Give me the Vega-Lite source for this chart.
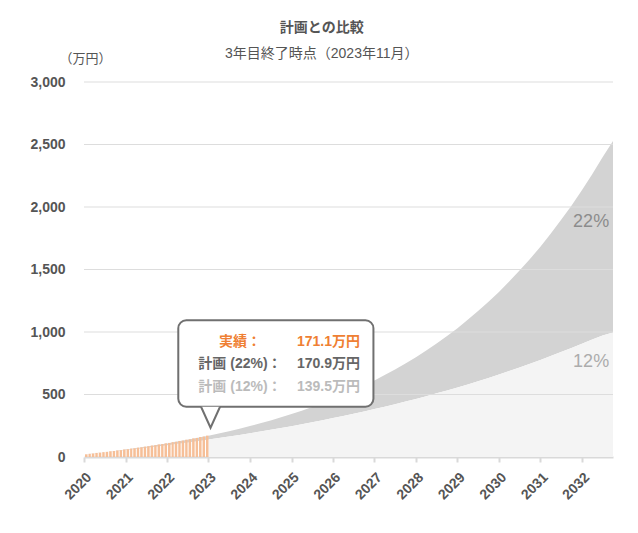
{
  "$schema": "https://vega.github.io/schema/vega-lite/v6.json",
  "width": 529,
  "height": 375,
  "autosize": {"type": "none"},
  "padding": {"left": 84, "top": 82, "right": 25, "bottom": 76},
  "background": "white",
  "title": {
    "text": "計画との比較",
    "subtitle": "3年目終了時点（2023年11月）",
    "anchor": "middle",
    "frame": "bounds",
    "fontSize": 14,
    "fontWeight": "bold",
    "color": "#555",
    "subtitleFontSize": 14,
    "subtitleColor": "#555",
    "subtitlePadding": 12,
    "offset": -9
  },
  "datasets": {
    "plan": [
      {"date": "2020-01-01", "p12": 20, "p22": 20},
      {"date": "2020-04-01", "p12": 28.4, "p22": 29.1},
      {"date": "2020-07-01", "p12": 37.1, "p22": 38.7},
      {"date": "2020-10-01", "p12": 46.0, "p22": 48.9},
      {"date": "2021-01-01", "p12": 55.3, "p22": 59.6},
      {"date": "2021-04-01", "p12": 64.7, "p22": 71.0},
      {"date": "2021-07-01", "p12": 74.5, "p22": 82.9},
      {"date": "2021-10-01", "p12": 84.6, "p22": 95.6},
      {"date": "2022-01-01", "p12": 95.0, "p22": 109.0},
      {"date": "2022-04-01", "p12": 105.7, "p22": 123.2},
      {"date": "2022-07-01", "p12": 116.7, "p22": 138.1},
      {"date": "2022-10-01", "p12": 128.1, "p22": 153.9},
      {"date": "2023-01-01", "p12": 139.5, "p22": 170.9},
      {"date": "2023-04-01", "p12": 151.8, "p22": 188.3},
      {"date": "2023-07-01", "p12": 164.2, "p22": 207.0},
      {"date": "2023-10-01", "p12": 177.0, "p22": 226.7},
      {"date": "2024-01-01", "p12": 190.2, "p22": 247.5},
      {"date": "2024-04-01", "p12": 203.8, "p22": 269.5},
      {"date": "2024-07-01", "p12": 217.8, "p22": 292.8},
      {"date": "2024-10-01", "p12": 232.2, "p22": 317.4},
      {"date": "2025-01-01", "p12": 247.0, "p22": 343.4},
      {"date": "2025-04-01", "p12": 262.3, "p22": 370.9},
      {"date": "2025-07-01", "p12": 278.1, "p22": 400.0},
      {"date": "2025-10-01", "p12": 294.4, "p22": 430.7},
      {"date": "2026-01-01", "p12": 311.1, "p22": 463.1},
      {"date": "2026-04-01", "p12": 328.3, "p22": 497.4},
      {"date": "2026-07-01", "p12": 346.1, "p22": 533.6},
      {"date": "2026-10-01", "p12": 364.4, "p22": 571.9},
      {"date": "2027-01-01", "p12": 383.3, "p22": 612.4},
      {"date": "2027-04-01", "p12": 402.7, "p22": 655.1},
      {"date": "2027-07-01", "p12": 422.7, "p22": 700.3},
      {"date": "2027-10-01", "p12": 443.3, "p22": 748.1},
      {"date": "2028-01-01", "p12": 464.6, "p22": 798.6},
      {"date": "2028-04-01", "p12": 486.5, "p22": 851.9},
      {"date": "2028-07-01", "p12": 509.1, "p22": 908.3},
      {"date": "2028-10-01", "p12": 532.3, "p22": 967.9},
      {"date": "2029-01-01", "p12": 556.2, "p22": 1030.9},
      {"date": "2029-04-01", "p12": 580.9, "p22": 1097.4},
      {"date": "2029-07-01", "p12": 606.3, "p22": 1167.8},
      {"date": "2029-10-01", "p12": 632.5, "p22": 1242.1},
      {"date": "2030-01-01", "p12": 659.5, "p22": 1320.7},
      {"date": "2030-04-01", "p12": 687.3, "p22": 1403.7},
      {"date": "2030-07-01", "p12": 716.0, "p22": 1491.5},
      {"date": "2030-10-01", "p12": 745.5, "p22": 1584.2},
      {"date": "2031-01-01", "p12": 775.9, "p22": 1682.2},
      {"date": "2031-04-01", "p12": 807.2, "p22": 1785.8},
      {"date": "2031-07-01", "p12": 839.5, "p22": 1895.3},
      {"date": "2031-10-01", "p12": 872.7, "p22": 2011.0},
      {"date": "2032-01-01", "p12": 906.0, "p22": 2133.2},
      {"date": "2032-04-01", "p12": 940.0, "p22": 2262.4},
      {"date": "2032-07-01", "p12": 973.0, "p22": 2399.0},
      {"date": "2032-10-01", "p12": 996.0, "p22": 2528.0}
    ],
    "actual": [
      {"date": "2020-01-01", "value": 21.6},
      {"date": "2020-02-01", "value": 25.3},
      {"date": "2020-03-01", "value": 28.2},
      {"date": "2020-04-01", "value": 32.6},
      {"date": "2020-05-01", "value": 34.8},
      {"date": "2020-06-01", "value": 38.9},
      {"date": "2020-07-01", "value": 41.2},
      {"date": "2020-08-01", "value": 45.9},
      {"date": "2020-09-01", "value": 48.1},
      {"date": "2020-10-01", "value": 52.7},
      {"date": "2020-11-01", "value": 55.2},
      {"date": "2020-12-01", "value": 60.1},
      {"date": "2021-01-01", "value": 62.4},
      {"date": "2021-02-01", "value": 67.5},
      {"date": "2021-03-01", "value": 69.8},
      {"date": "2021-04-01", "value": 75.3},
      {"date": "2021-05-01", "value": 77.9},
      {"date": "2021-06-01", "value": 83.4},
      {"date": "2021-07-01", "value": 86.1},
      {"date": "2021-08-01", "value": 91.8},
      {"date": "2021-09-01", "value": 94.6},
      {"date": "2021-10-01", "value": 100.5},
      {"date": "2021-11-01", "value": 103.2},
      {"date": "2021-12-01", "value": 109.4},
      {"date": "2022-01-01", "value": 112.7},
      {"date": "2022-02-01", "value": 118.9},
      {"date": "2022-03-01", "value": 121.8},
      {"date": "2022-04-01", "value": 128.4},
      {"date": "2022-05-01", "value": 131.6},
      {"date": "2022-06-01", "value": 138.5},
      {"date": "2022-07-01", "value": 142.0},
      {"date": "2022-08-01", "value": 148.7},
      {"date": "2022-09-01", "value": 152.6},
      {"date": "2022-10-01", "value": 159.8},
      {"date": "2022-11-01", "value": 163.9},
      {"date": "2022-12-01", "value": 171.1}
    ],
    "grid": [
      {"v": 500}, {"v": 1000}, {"v": 1500}, {"v": 2000}, {"v": 2500}, {"v": 3000}
    ],
    "rate": [
      {"series": "22%", "label": "22%"},
      {"series": "12%", "label": "12%"}
    ],
    "note": [
      {"series": "実績", "label": "実績：", "amount": "171.1万円"},
      {"series": "22%", "label": "計画 (22%)：", "amount": "170.9万円"},
      {"series": "12%", "label": "計画 (12%)：", "amount": "139.5万円"}
    ]
  },
  "layer": [
    {
      "data": {"name": "plan"},
      "mark": {"type": "area", "color": "#d3d3d3"},
      "encoding": {
        "x": {
          "field": "date", "type": "temporal", "title": null,
          "scale": {"domain": [{"year": 2020, "month": 1, "date": 1}, {"year": 2032, "month": 10, "date": 1}], "nice": false},
          "axis": {
            "format": "%Y", "tickCount": {"interval": "year", "step": 1},
            "labelAngle": -45, "labelFontSize": 14, "labelFontWeight": "bold", "labelColor": "#555",
            "labelPadding": 8, "domainColor": "#d9d9d9", "domainWidth": 2,
            "tickColor": "#d9d9d9", "tickWidth": 2, "tickSize": 5, "grid": false
          }
        },
        "y": {
          "field": "p22", "type": "quantitative",
          "scale": {"domain": [0, 3000], "nice": false},
          "axis": {
            "title": "（万円）", "titleAngle": 0, "titleAlign": "center", "titleBaseline": "middle",
            "titleX": 1, "titleY": -24, "titleFontSize": 13, "titleFontWeight": "normal", "titleColor": "#555",
            "values": [0, 500, 1000, 1500, 2000, 2500, 3000], "format": ",d",
            "labelFontSize": 14, "labelFontWeight": "bold", "labelColor": "#555", "labelPadding": 19,
            "grid": false, "domain": false, "ticks": false
          }
        },
        "y2": {"field": "p12"}
      }
    },
    {
      "data": {"name": "plan"},
      "transform": [{"filter": "year(datum.date) >= 2023"}],
      "mark": {"type": "area", "color": "#f4f4f4"},
      "encoding": {
        "x": {"field": "date", "type": "temporal"},
        "y": {"field": "p12", "type": "quantitative"}
      }
    },
    {
      "data": {"name": "actual"},
      "mark": {"type": "bar", "color": "#f6bf98"},
      "encoding": {
        "x": {"field": "date", "timeUnit": "yearmonth", "type": "temporal"},
        "y": {"field": "value", "type": "quantitative"}
      }
    },
    {
      "data": {"name": "grid"},
      "mark": {"type": "rule", "color": "#dddddd", "strokeWidth": 1},
      "encoding": {
        "y": {"field": "v", "type": "quantitative"}
      }
    },
    {
      "data": {"name": "rate"},
      "transform": [{"filter": "datum.series === '22%'"}],
      "mark": {"type": "text", "align": "right", "baseline": "middle", "fontSize": 18, "color": "#8c8c8c"},
      "encoding": {
        "x": {"datum": {"year": 2032, "month": 8, "date": 28}, "type": "temporal"},
        "y": {"datum": 1878, "type": "quantitative"},
        "text": {"field": "label"}
      }
    },
    {
      "data": {"name": "rate"},
      "transform": [{"filter": "datum.series === '12%'"}],
      "mark": {"type": "text", "align": "right", "baseline": "middle", "fontSize": 18, "color": "#acacac"},
      "encoding": {
        "x": {"datum": {"year": 2032, "month": 8, "date": 28}, "type": "temporal"},
        "y": {"datum": 758, "type": "quantitative"},
        "text": {"field": "label"}
      }
    },
    {
      "data": {"values": [{}]},
      "mark": {"type": "rect", "fill": "white", "stroke": "#707070", "strokeWidth": 2, "cornerRadius": 8},
      "encoding": {
        "x": {"datum": {"year": 2022, "month": 4, "date": 10}, "type": "temporal"},
        "x2": {"datum": {"year": 2026, "month": 12, "date": 23}},
        "y": {"datum": 1094, "type": "quantitative"},
        "y2": {"datum": 402}
      }
    },
    {
      "data": {"values": [{}]},
      "mark": {"type": "point", "shape": "M-0.95,-1.1L0,1L0.95,-1.1", "size": 400, "filled": true, "fill": "white", "stroke": "#707070", "strokeWidth": 2, "opacity": 1},
      "encoding": {
        "x": {"datum": {"year": 2023, "month": 1, "date": 19}, "type": "temporal"},
        "y": {"datum": 314, "type": "quantitative"}
      }
    },
    {
      "data": {"name": "note"},
      "transform": [{"filter": "datum.series === '実績'"}],
      "mark": {"type": "text", "align": "center", "baseline": "middle", "fontSize": 14, "fontWeight": "bold", "color": "#ef7f33"},
      "encoding": {
        "x": {"datum": {"year": 2023, "month": 10, "date": 5}, "type": "temporal"},
        "y": {"datum": 924, "type": "quantitative"},
        "text": {"field": "label"}
      }
    },
    {
      "data": {"name": "note"},
      "transform": [{"filter": "datum.series === '実績'"}],
      "mark": {"type": "text", "align": "right", "baseline": "middle", "fontSize": 14, "fontWeight": "bold", "color": "#ef7f33"},
      "encoding": {
        "x": {"datum": {"year": 2026, "month": 8, "date": 27}, "type": "temporal"},
        "y": {"datum": 924, "type": "quantitative"},
        "text": {"field": "amount"}
      }
    },
    {
      "data": {"name": "note"},
      "transform": [{"filter": "datum.series === '22%'"}],
      "mark": {"type": "text", "align": "center", "baseline": "middle", "fontSize": 14, "fontWeight": "bold", "color": "#666666"},
      "encoding": {
        "x": {"datum": {"year": 2023, "month": 10, "date": 5}, "type": "temporal"},
        "y": {"datum": 743, "type": "quantitative"},
        "text": {"field": "label"}
      }
    },
    {
      "data": {"name": "note"},
      "transform": [{"filter": "datum.series === '22%'"}],
      "mark": {"type": "text", "align": "right", "baseline": "middle", "fontSize": 14, "fontWeight": "bold", "color": "#666666"},
      "encoding": {
        "x": {"datum": {"year": 2026, "month": 8, "date": 27}, "type": "temporal"},
        "y": {"datum": 743, "type": "quantitative"},
        "text": {"field": "amount"}
      }
    },
    {
      "data": {"name": "note"},
      "transform": [{"filter": "datum.series === '12%'"}],
      "mark": {"type": "text", "align": "center", "baseline": "middle", "fontSize": 14, "fontWeight": "bold", "color": "#bbbbbb"},
      "encoding": {
        "x": {"datum": {"year": 2023, "month": 10, "date": 5}, "type": "temporal"},
        "y": {"datum": 559, "type": "quantitative"},
        "text": {"field": "label"}
      }
    },
    {
      "data": {"name": "note"},
      "transform": [{"filter": "datum.series === '12%'"}],
      "mark": {"type": "text", "align": "right", "baseline": "middle", "fontSize": 14, "fontWeight": "bold", "color": "#bbbbbb"},
      "encoding": {
        "x": {"datum": {"year": 2026, "month": 8, "date": 27}, "type": "temporal"},
        "y": {"datum": 559, "type": "quantitative"},
        "text": {"field": "amount"}
      }
    }
  ],
  "config": {
    "font": "'Liberation Sans', 'Noto Sans CJK JP', sans-serif",
    "view": {"stroke": null}
  }
}
